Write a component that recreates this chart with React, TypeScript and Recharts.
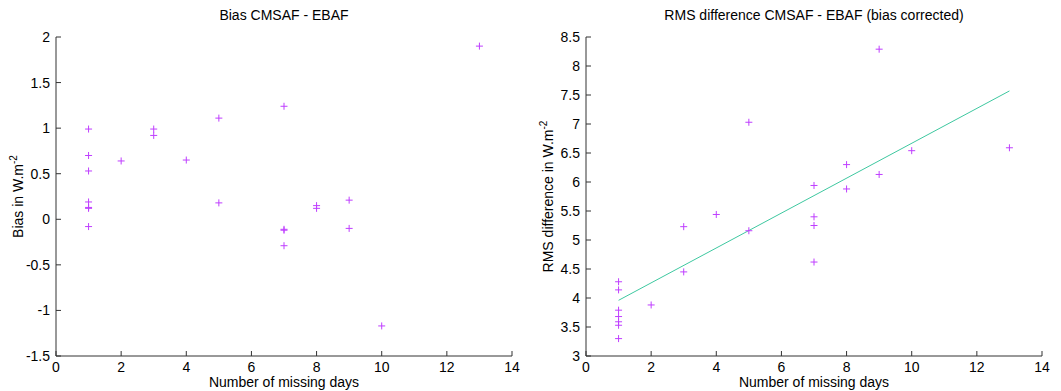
import React from 'react';
import { ScatterChart, Scatter, XAxis, YAxis, Label } from 'recharts';

const missingDays = [1, 1, 1, 1, 1, 1, 1, 2, 3, 3, 4, 5, 5, 7, 7, 7, 7, 8, 8, 9, 9, 10, 13];
const biasValues = [0.99, 0.7, 0.53, 0.19, 0.13, 0.12, -0.08, 0.64, 0.99, 0.92, 0.65, 1.11, 0.18, 1.24, -0.11, -0.12, -0.29, 0.15, 0.12, 0.21, -0.1, -1.17, 1.9];
const rmsValues = [4.28, 4.14, 3.79, 3.68, 3.59, 3.53, 3.3, 3.88, 5.23, 4.45, 5.44, 7.03, 5.16, 5.94, 5.4, 5.25, 4.62, 6.3, 5.88, 8.29, 6.13, 6.54, 6.59];
const fitDays = [1, 13];
const fitRms = [3.96, 7.57];

const xTicks = [0, 2, 4, 6, 8, 10, 12, 14];
const biasTicks = [-1.5, -1, -0.5, 0, 0.5, 1, 1.5, 2];
const rmsTicks = [3, 3.5, 4, 4.5, 5, 5.5, 6, 6.5, 7, 7.5, 8, 8.5];

const FONT = '"Liberation Sans", Arial, sans-serif';
const MARKER = '#bf3fff';
const FIT = '#3ec8a0';
const FRAME = '#333';

const toPoints = (xs: number[], ys: number[]) => xs.map((x, i) => ({ x, y: ys[i] }));

function Plus(props: any) {
  const { cx, cy } = props;
  if (cx == null || cy == null) return <g />;
  return (
    <g stroke={MARKER} strokeWidth={1}>
      <line x1={cx - 3.5} y1={cy} x2={cx + 3.5} y2={cy} />
      <line x1={cx} y1={cy - 3.5} x2={cx} y2={cy + 3.5} />
    </g>
  );
}

const Empty = () => <g />;

function YLabel({ text }: { text: string }) {
  return (props: any) => {
    const vb = props.viewBox || { y: 37, height: 319 };
    const cy = vb.y + vb.height / 2;
    return (
      <text x={23} y={cy} transform={`rotate(-90 23 ${cy})`} textAnchor="middle"
        fontFamily={FONT} fontSize={14} fill="#000">
        {text}
        <tspan fontSize={10} dy={-6}>-2</tspan>
      </text>
    );
  };
}

function Panel({ title, ylabel, data, ticks, domain, fit }: {
  title: string; ylabel: string; data: { x: number; y: number }[];
  ticks: number[]; domain: [number, number]; fit?: { x: number; y: number }[];
}) {
  const axisStyle = { fontFamily: FONT, fontSize: 14, fill: '#000' };
  return (
    <div style={{ position: 'relative', width: 530, height: 391 }}>
      <div style={{ position: 'absolute', left: 56, width: 456, top: 7, textAlign: 'center', fontFamily: FONT, fontSize: 14, color: '#000' }}>
        {title}
      </div>
      <ScatterChart width={530} height={391} margin={{ top: 37, right: 18, bottom: 0, left: 0 }}>
        <XAxis xAxisId="b" dataKey="x" type="number" domain={[0, 14]} ticks={xTicks} height={35}
          tickSize={-5} tickMargin={11} tick={axisStyle} stroke={FRAME} allowDataOverflow>
          <Label content={(p: any) => {
            const vb = p.viewBox || { x: 56, width: 456 };
            return (
              <text x={vb.x + vb.width / 2} y={387} textAnchor="middle" fontFamily={FONT} fontSize={14} fill="#000">
                Number of missing days
              </text>
            );
          }} />
        </XAxis>
        <XAxis xAxisId="t" dataKey="x" type="number" orientation="top" domain={[0, 14]} ticks={xTicks} height={0}
          tickSize={-5} tick={{ fill: 'none' }} stroke={FRAME} allowDataOverflow />
        <YAxis yAxisId="l" dataKey="y" type="number" domain={domain} ticks={ticks} width={56}
          tickSize={-5} tickMargin={11} tick={axisStyle} stroke={FRAME} allowDataOverflow>
          <Label content={YLabel({ text: ylabel })} />
        </YAxis>
        <YAxis yAxisId="r" dataKey="y" type="number" orientation="right" domain={domain} ticks={ticks} width={0}
          tickSize={-5} tick={{ fill: 'none' }} stroke={FRAME} allowDataOverflow />
        {fit && (
          <Scatter xAxisId="b" yAxisId="l" data={fit} line={{ stroke: FIT, strokeWidth: 1 }} shape={Empty} isAnimationActive={false} />
        )}
        <Scatter xAxisId="b" yAxisId="l" data={data} shape={Plus} isAnimationActive={false} />
      </ScatterChart>
    </div>
  );
}

export default function App() {
  return (
    <div style={{ position: 'absolute', left: 0, top: 0, width: 1061, height: 391, display: 'flex', background: '#fff' }}>
      <Panel title="Bias CMSAF - EBAF" ylabel="Bias in W.m" data={toPoints(missingDays, biasValues)}
        ticks={biasTicks} domain={[-1.5, 2]} />
      <Panel title="RMS difference CMSAF - EBAF (bias corrected)" ylabel="RMS difference in W.m"
        data={toPoints(missingDays, rmsValues)} ticks={rmsTicks} domain={[3, 8.5]}
        fit={toPoints(fitDays, fitRms)} />
    </div>
  );
}
